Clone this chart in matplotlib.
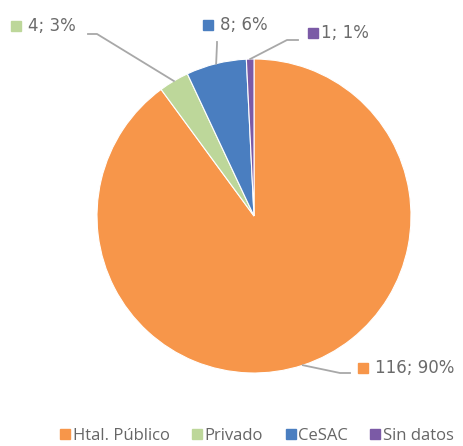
import numpy as np
import matplotlib
matplotlib.use("Agg")
import matplotlib.pyplot as plt
from matplotlib.lines import Line2D

categories = ["Htal. Público", "Privado", "CeSAC", "Sin datos"]
values = [116, 4, 8, 1]
percents = [90, 3, 6, 1]
colors = ["#F7964A", "#BDD79A", "#4A7EC0", "#7B5AA6"]

W, H = 464, 446
fig = plt.figure(figsize=(W / 100, H / 100), dpi=100)
ax = fig.add_axes([0, 0, 1, 1])

cx, cy, R = 254, H - 216, 157
wedges, _ = ax.pie(values, colors=colors, startangle=90, counterclock=False,
                   center=(cx, cy), radius=R,
                   wedgeprops=dict(edgecolor="white", linewidth=0.8))
ax.set_xlim(0, W)
ax.set_ylim(0, H)
ax.set_aspect("equal")
ax.axis("off")

# label layout (pixel coordinates, y from top): elbow, line end, marker, text
layout = [
    dict(elbow=(340, 373), end=(350, 373), marker=(363, 368), text=(375, 368)),
    dict(elbow=(97, 34), end=(88, 34), marker=(16, 26), text=(28, 26)),
    dict(elbow=(217, 44), end=(217, 42), marker=(208, 25), text=(220, 25)),
    dict(elbow=(287, 40), end=(298, 40), marker=(313, 33), text=(321, 33)),
]
txtcol = "#6b6b6b"
for w, v, p, c, L in zip(wedges, values, percents, colors, layout):
    ang = np.deg2rad((w.theta1 + w.theta2) / 2)
    x0, y0 = cx + R * np.cos(ang), cy + R * np.sin(ang)
    xs = [x0, L["elbow"][0], L["end"][0]]
    ys = [y0, H - L["elbow"][1], H - L["end"][1]]
    ax.plot(xs, ys, color="#a8a8a8", lw=1.3, zorder=1)
    ax.plot(L["marker"][0], H - L["marker"][1], marker="s", ms=6.5,
            color=c, mec=c, ls="none")
    ax.text(L["text"][0], H - L["text"][1], f"{v}; {p}%", fontsize=12,
            color=txtcol, va="center", ha="left", family="DejaVu Sans")

handles = [Line2D([], [], marker="s", ls="none", color=c, mec=c, ms=7)
           for c in colors]
fig.legend(handles, categories, loc="center", bbox_to_anchor=(0.553, 1 - 436 / H),
           ncol=4, frameon=False, handletextpad=0.1,
           columnspacing=1.3, handlelength=0.7, labelcolor="#666666",
           prop=dict(family="Open Sans", size=12))

fig.savefig("out.png", dpi=100)
